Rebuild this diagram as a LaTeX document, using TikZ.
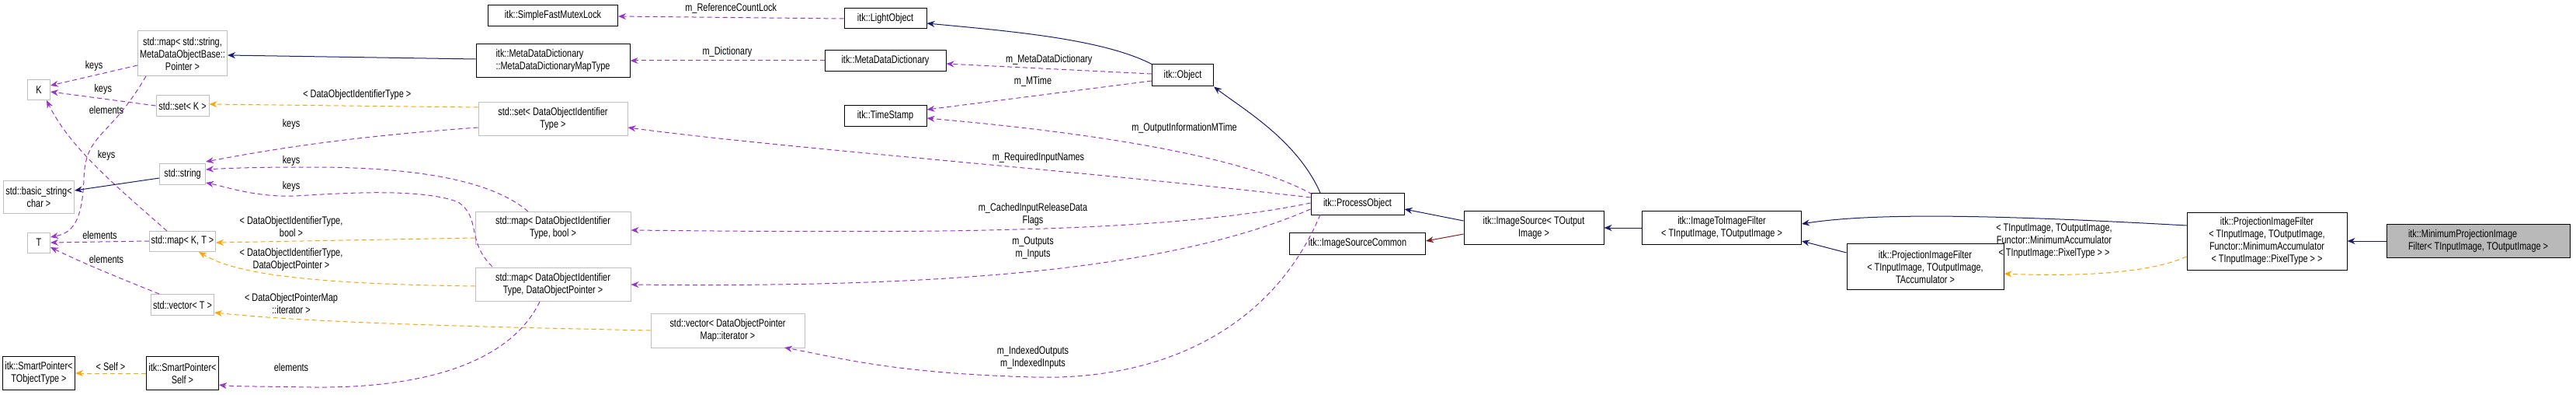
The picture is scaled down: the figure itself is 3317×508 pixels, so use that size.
\documentclass[tikz,border=0pt]{standalone}
\usepackage{fontspec}
\setmainfont{Liberation Sans}[FakeStretch=0.78]
\usetikzlibrary{arrows.meta}
\definecolor{pur}{HTML}{9A32CD}
\definecolor{orn}{HTML}{FFA500}
\definecolor{nav}{HTML}{191970}
\definecolor{drd}{HTML}{8B1A1A}
\definecolor{gbd}{HTML}{BFBFBF}
\begin{document}
\begin{tikzpicture}[x=1pt,y=-1pt,
  font=\fontsize{14}{16}\selectfont,
  box/.style 2 args={draw, line width=1pt, inner sep=1pt, align=center, minimum width=#1, minimum height=#2},
  doc/.style={draw=black},
  ext/.style={draw=gbd},
  tip/.style={-{Stealth[length=10pt,width=8pt]}},
  mem/.style={tip, pur, dashed, line width=1pt, dash pattern=on 6pt off 4pt},
  tpl/.style={tip, orn, dashed, line width=1pt, dash pattern=on 6pt off 4pt},
  inh/.style={tip, nav, line width=1pt},
  lbl/.style={font=\fontsize{14}{16}\selectfont, align=center, text=black}]
\useasboundingbox (0,0) rectangle (3317,508);
% nodes
\node[box={29pt}{26pt},ext] (K) at (50,116) {K};
\node[box={29pt}{26pt},ext] (T) at (50,312) {T};
\node[box={91pt}{42pt},ext] (bs) at (50,253) {std::basic\_string<\\char >};
\node[box={115pt}{58pt},ext] (mss) at (235,69) {std::map< std::string,\\MetaDataObjectBase::\\Pointer >};
\node[box={68pt}{27pt},ext] (setK) at (235,136) {std::set< K >};
\node[box={59pt}{27pt},ext] (str) at (235,224) {std::string};
\node[box={85pt}{26pt},ext] (mapKT) at (235,310) {std::map< K, T >};
\node[box={81pt}{27pt},ext] (vecT) at (235,392) {std::vector< T >};
\node[box={93pt}{43pt},doc] (spT) at (50,480) {itk::SmartPointer<\\TObjectType >};
\node[box={93pt}{43pt},doc] (spS) at (235,480) {itk::SmartPointer<\\Self >};
\node[box={167pt}{27pt},doc] (mutex) at (712,20) {itk::SimpleFastMutexLock};
\node[box={106pt}{26pt},doc] (light) at (1140,24) {itk::LightObject};
\node[box={198pt}{43pt},doc,align=left] (mdmt) at (712,78) {itk::MetaDataDictionary\\::MetaDataDictionaryMapType};
\node[box={156pt}{27pt},doc] (mdd) at (1140,78) {itk::MetaDataDictionary};
\node[box={79pt}{28pt},doc] (obj) at (1523,97) {itk::Object};
\node[box={106pt}{27pt},doc] (ts) at (1140,149) {itk::TimeStamp};
\node[box={192pt}{42pt},ext] (setD) at (712,153) {std::set< DataObjectIdentifier\\Type >};
\node[box={200pt}{42pt},ext] (mapDB) at (712,293) {std::map< DataObjectIdentifier\\Type, bool >};
\node[box={200pt}{43pt},ext] (mapDP) at (712,366) {std::map< DataObjectIdentifier\\Type, DataObjectPointer >};
\node[box={198pt}{44pt},ext] (vecD) at (937,425) {std::vector< DataObjectPointer\\Map::iterator >};
\node[box={120pt}{28pt},doc] (po) at (1748,262) {itk::ProcessObject};
\node[box={175pt}{28pt},doc] (isc) at (1748,313) {itk::ImageSourceCommon};
\node[box={180pt}{43pt},doc] (is) at (1975,293) {itk::ImageSource< TOutput\\Image >};
\node[box={205pt}{43pt},doc] (i2i) at (2217,293) {itk::ImageToImageFilter\\< TInputImage, TOutputImage >};
\node[box={202pt}{59pt},doc] (pif) at (2479,343) {itk::ProjectionImageFilter\\< TInputImage, TOutputImage,\\TAccumulator >};
\node[box={206pt}{74pt},doc] (pifm) at (2919,310) {itk::ProjectionImageFilter\\< TInputImage, TOutputImage,\\Functor::MinimumAccumulator\\< TInputImage::PixelType > >};
\node[box={236pt}{43pt},draw=black,fill=gray!55,align=left] (mpf) at (3191,310) {itk::MinimumProjectionImage\\Filter< TInputImage, TOutputImage >};
% left side edges
\draw[mem] (mss.west|-0,84) -- (K.east|-0,110) node[lbl,pos=0.5,above=2pt] {keys};
\draw[mem] (setK.west) -- (K.east|-0,118) node[lbl,pos=0.5,above=2pt] {keys};
\draw[mem] (188,98) .. controls (140,180) and (110,170) .. (108,230) .. controls (106,290) and (90,300) .. (T.east|-0,305);
\node[lbl] at (137,141) {elements};
\draw[mem] (215,297) .. controls (150,240) and (90,190) .. (60,129);
\node[lbl] at (137,200) {keys};
\draw[inh] (str.west|-0,229) -- (bs.east|-0,245);
\draw[mem] (mapKT.west) -- (T.east|-0,312) node[lbl,pos=0.5,above=0pt] {elements};
\draw[mem] (205,378) .. controls (160,360) and (110,340) .. (T.east|-0,318);
\node[lbl] at (137,333) {elements};
\draw[tpl] (spS.west) -- (spT.east) node[lbl,pos=0.5,above=0pt] {< Self >};
\draw[inh] (mdmt.west|-0,76) -- (mss.east|-0,71);
% middle-left edges
\draw[tpl] (setD.west|-0,138) -- (setK.east|-0,134) node[lbl,pos=0.45,above=4pt] {< DataObjectIdentifierType >};
\draw[mem] (setD.west|-0,164) .. controls (460,175) and (360,190) .. (str.east|-0,208);
\node[lbl] at (375,160) {keys};
\draw[mem] (680,272) .. controls (620,220) and (480,215) .. (400,215) .. controls (330,215) and (300,216) .. (str.east|-0,218);
\node[lbl] at (375,207) {keys};
\draw[mem] (634,343) .. controls (600,310) and (620,280) .. (590,260) .. controls (540,240) and (420,250) .. (380,252) .. controls (330,254) and (290,240) .. (str.east|-0,235);
\node[lbl] at (375,240) {keys};
\draw[tpl] (mapDB.west|-0,306) -- (mapKT.east|-0,312);
\node[lbl] at (375,291) {< DataObjectIdentifierType,\\bool >};
\draw[tpl] (mapDP.west|-0,368) .. controls (380,365) and (300,350) .. (256,324);
\node[lbl] at (375,334) {< DataObjectIdentifierType,\\DataObjectPointer >};
\draw[tpl] (vecD.west|-0,425) .. controls (600,420) and (400,415) .. (vecT.east|-0,402);
\node[lbl] at (375,390) {< DataObjectPointerMap\\::iterator >};
\draw[mem] (695,388) .. controls (660,460) and (560,500) .. (400,498) .. controls (340,497) and (300,497) .. (spS.east|-0,495);
\node[lbl] at (375,472) {elements};
% top edges
\draw[mem] (light.west|-0,24) -- (mutex.east|-0,21) node[lbl,pos=0.5,above=1pt] {m\_ReferenceCountLock};
\draw[inh] (obj.north west) .. controls (1420,50) and (1300,40) .. (light.east|-0,30);
\draw[mem] (mdd.west) -- (mdmt.east|-0,78) node[lbl,pos=0.5,above=1pt] {m\_Dictionary};
\draw[mem] (obj.west|-0,95) -- (mdd.east|-0,82) node[lbl,pos=0.5,above=1pt] {m\_MetaDataDictionary};
\draw[mem] (obj.west|-0,104) -- (ts.east|-0,141);
\node[lbl] at (1330,105) {m\_MTime};
\draw[inh] (1700,248) .. controls (1670,180) and (1600,140) .. (obj.south east);
\draw[mem] (1690,250) .. controls (1600,200) and (1400,170) .. (ts.east|-0,152);
\node[lbl] at (1525,165) {m\_OutputInformationMTime};
\draw[mem] (po.west|-0,254) .. controls (1400,220) and (1000,190) .. (setD.east|-0,164);
\node[lbl] at (1337,203) {m\_RequiredInputNames};
\draw[mem] (po.west|-0,261) .. controls (1500,300) and (1200,300) .. (mapDB.east|-0,296);
\node[lbl] at (1330,276) {m\_CachedInputReleaseData\\Flags};
\draw[mem] (po.west|-0,269) .. controls (1500,350) and (1200,370) .. (mapDP.east|-0,366);
\node[lbl] at (1330,319) {m\_Outputs\\m\_Inputs};
\draw[mem] (1700,276) .. controls (1640,420) and (1500,490) .. (1330,485) .. controls (1150,480) and (1080,460) .. (1010,447);
\node[lbl] at (1330,460) {m\_IndexedOutputs\\m\_IndexedInputs};
% right edges
\draw[inh] (is.west|-0,284) -- (po.east|-0,269);
\draw[tip,drd,line width=1pt] (is.west|-0,301) -- (isc.east|-0,310);
\draw[inh] (i2i.west|-0,293) -- (is.east|-0,293);
\draw[inh] (pif.west|-0,325) -- (2320,310);
\draw[inh] (pifm.west|-0,290) .. controls (2600,278) and (2420,272) .. (i2i.east|-0,288);
\draw[tpl] (pifm.west|-0,330) .. controls (2760,355) and (2650,355) .. (pif.east|-0,352);
\node[lbl] at (2645,310) {< TInputImage, TOutputImage,\\Functor::MinimumAccumulator\\< TInputImage::PixelType > >};
\draw[inh] (mpf.west) -- (pifm.east|-0,310);
\end{tikzpicture}
\end{document}
